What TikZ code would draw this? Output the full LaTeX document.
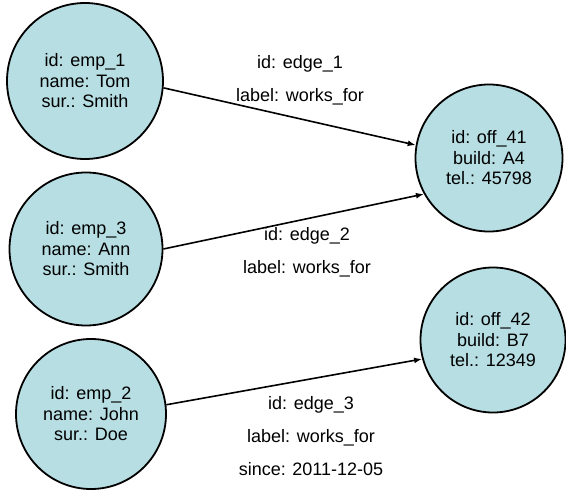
\documentclass[tikz,border=0pt]{standalone}
\usepackage{fontspec}
\setmainfont{Liberation Sans}
\usetikzlibrary{arrows.meta}
\definecolor{nodefill}{RGB}{183,222,227}
\begin{document}
\begin{tikzpicture}[x=1pt,y=-1pt,
  entity/.style={circle, draw=black, line width=1.8pt, fill=nodefill,
    inner sep=0pt, align=center, font=\fontsize{18}{20.5}\selectfont},
  rel/.style={-{Latex[length=8pt,width=6pt]}, line width=1.6pt},
  elabel/.style={align=center, font=\fontsize{18}{33}\selectfont}]
\useasboundingbox (0,0) rectangle (566,490);

% employees
\node[entity, minimum size=156pt] (emp1) at (85,81) {id: emp\_1\\name: Tom\\sur.: Smith};
\node[entity, minimum size=153pt] (emp3) at (86,249) {id: emp\_3\\name: Ann\\sur.: Smith};
\node[entity, minimum size=150pt] (emp2) at (91,414) {id: emp\_2\\name: John\\sur.: Doe};

% offices
\node[entity, minimum size=147pt] (off41) at (489,158) {id: off\_41\\build: A4\\tel.: 45798};
\node[entity, minimum size=145pt] (off42) at (493,340) {id: off\_42\\build: B7\\tel.: 12349};

% relations
\draw[rel] (emp1.-5) -- (off41.170);
\draw[rel] (emp3.0) -- (off41.209);
\draw[rel] (emp2.7) -- (off42.195);

% relation properties
\node[elabel] (l1) at (300,80) {id: edge\_1\\label: works\_for};
\node[elabel] (l2) at (307,252) {id: edge\_2\\label: works\_for};
\node[elabel] (l3) at (311,436) {id: edge\_3\\label: works\_for\\since: 2011-12-05};
\end{tikzpicture}
\end{document}
